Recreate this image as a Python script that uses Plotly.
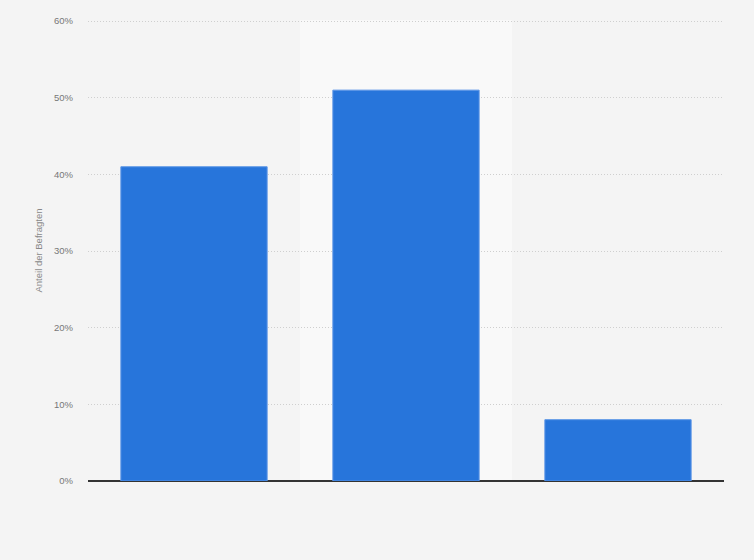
import plotly.graph_objects as go

categories = ["A", "B", "C"]
shares = [41, 51, 8]  # Anteil der Befragten in %
tick_vals = [0, 10, 20, 30, 40, 50, 60]
tick_text = ["0%", "10%", "20%", "30%", "40%", "50%", "60%"]

fig = go.Figure()
fig.add_trace(go.Bar(
    x=categories, y=shares,
    marker=dict(color="#2775db", line=dict(color="#5b95e6", width=1)),
    width=0.69,
    hoverinfo="skip",
))

# light hover band behind the middle bar
fig.add_shape(type="rect", xref="x", yref="paper", x0=0.5, x1=1.5, y0=0, y1=1,
              fillcolor="#f9f9f9", line_width=0, layer="below")

fig.update_layout(
    width=754, height=560,
    margin=dict(l=88, r=30, t=20, b=79),
    paper_bgcolor="#f4f4f4", plot_bgcolor="#f4f4f4",
    showlegend=False,
    font=dict(family="Arial, Liberation Sans, sans-serif", size=9.5, color="#777"),
)
fig.update_xaxes(showticklabels=False, showgrid=False, ticks="", range=[-0.5, 2.5])
fig.update_yaxes(
    range=[0, 60.15], tickvals=tick_vals, ticktext=tick_text,
    showgrid=True, gridcolor="#cfcfcf", griddash="1px,2px", gridwidth=1,
    zeroline=True, zerolinecolor="#333333", zerolinewidth=1.5,
    ticks="", ticklabelstandoff=14,
    title=dict(text="Anteil der Befragten", font=dict(size=9.5, color="#888"), standoff=9),
)

fig.write_html("out.html", config={"displayModeBar": False},
               post_script="document.body.style.margin='0';")
